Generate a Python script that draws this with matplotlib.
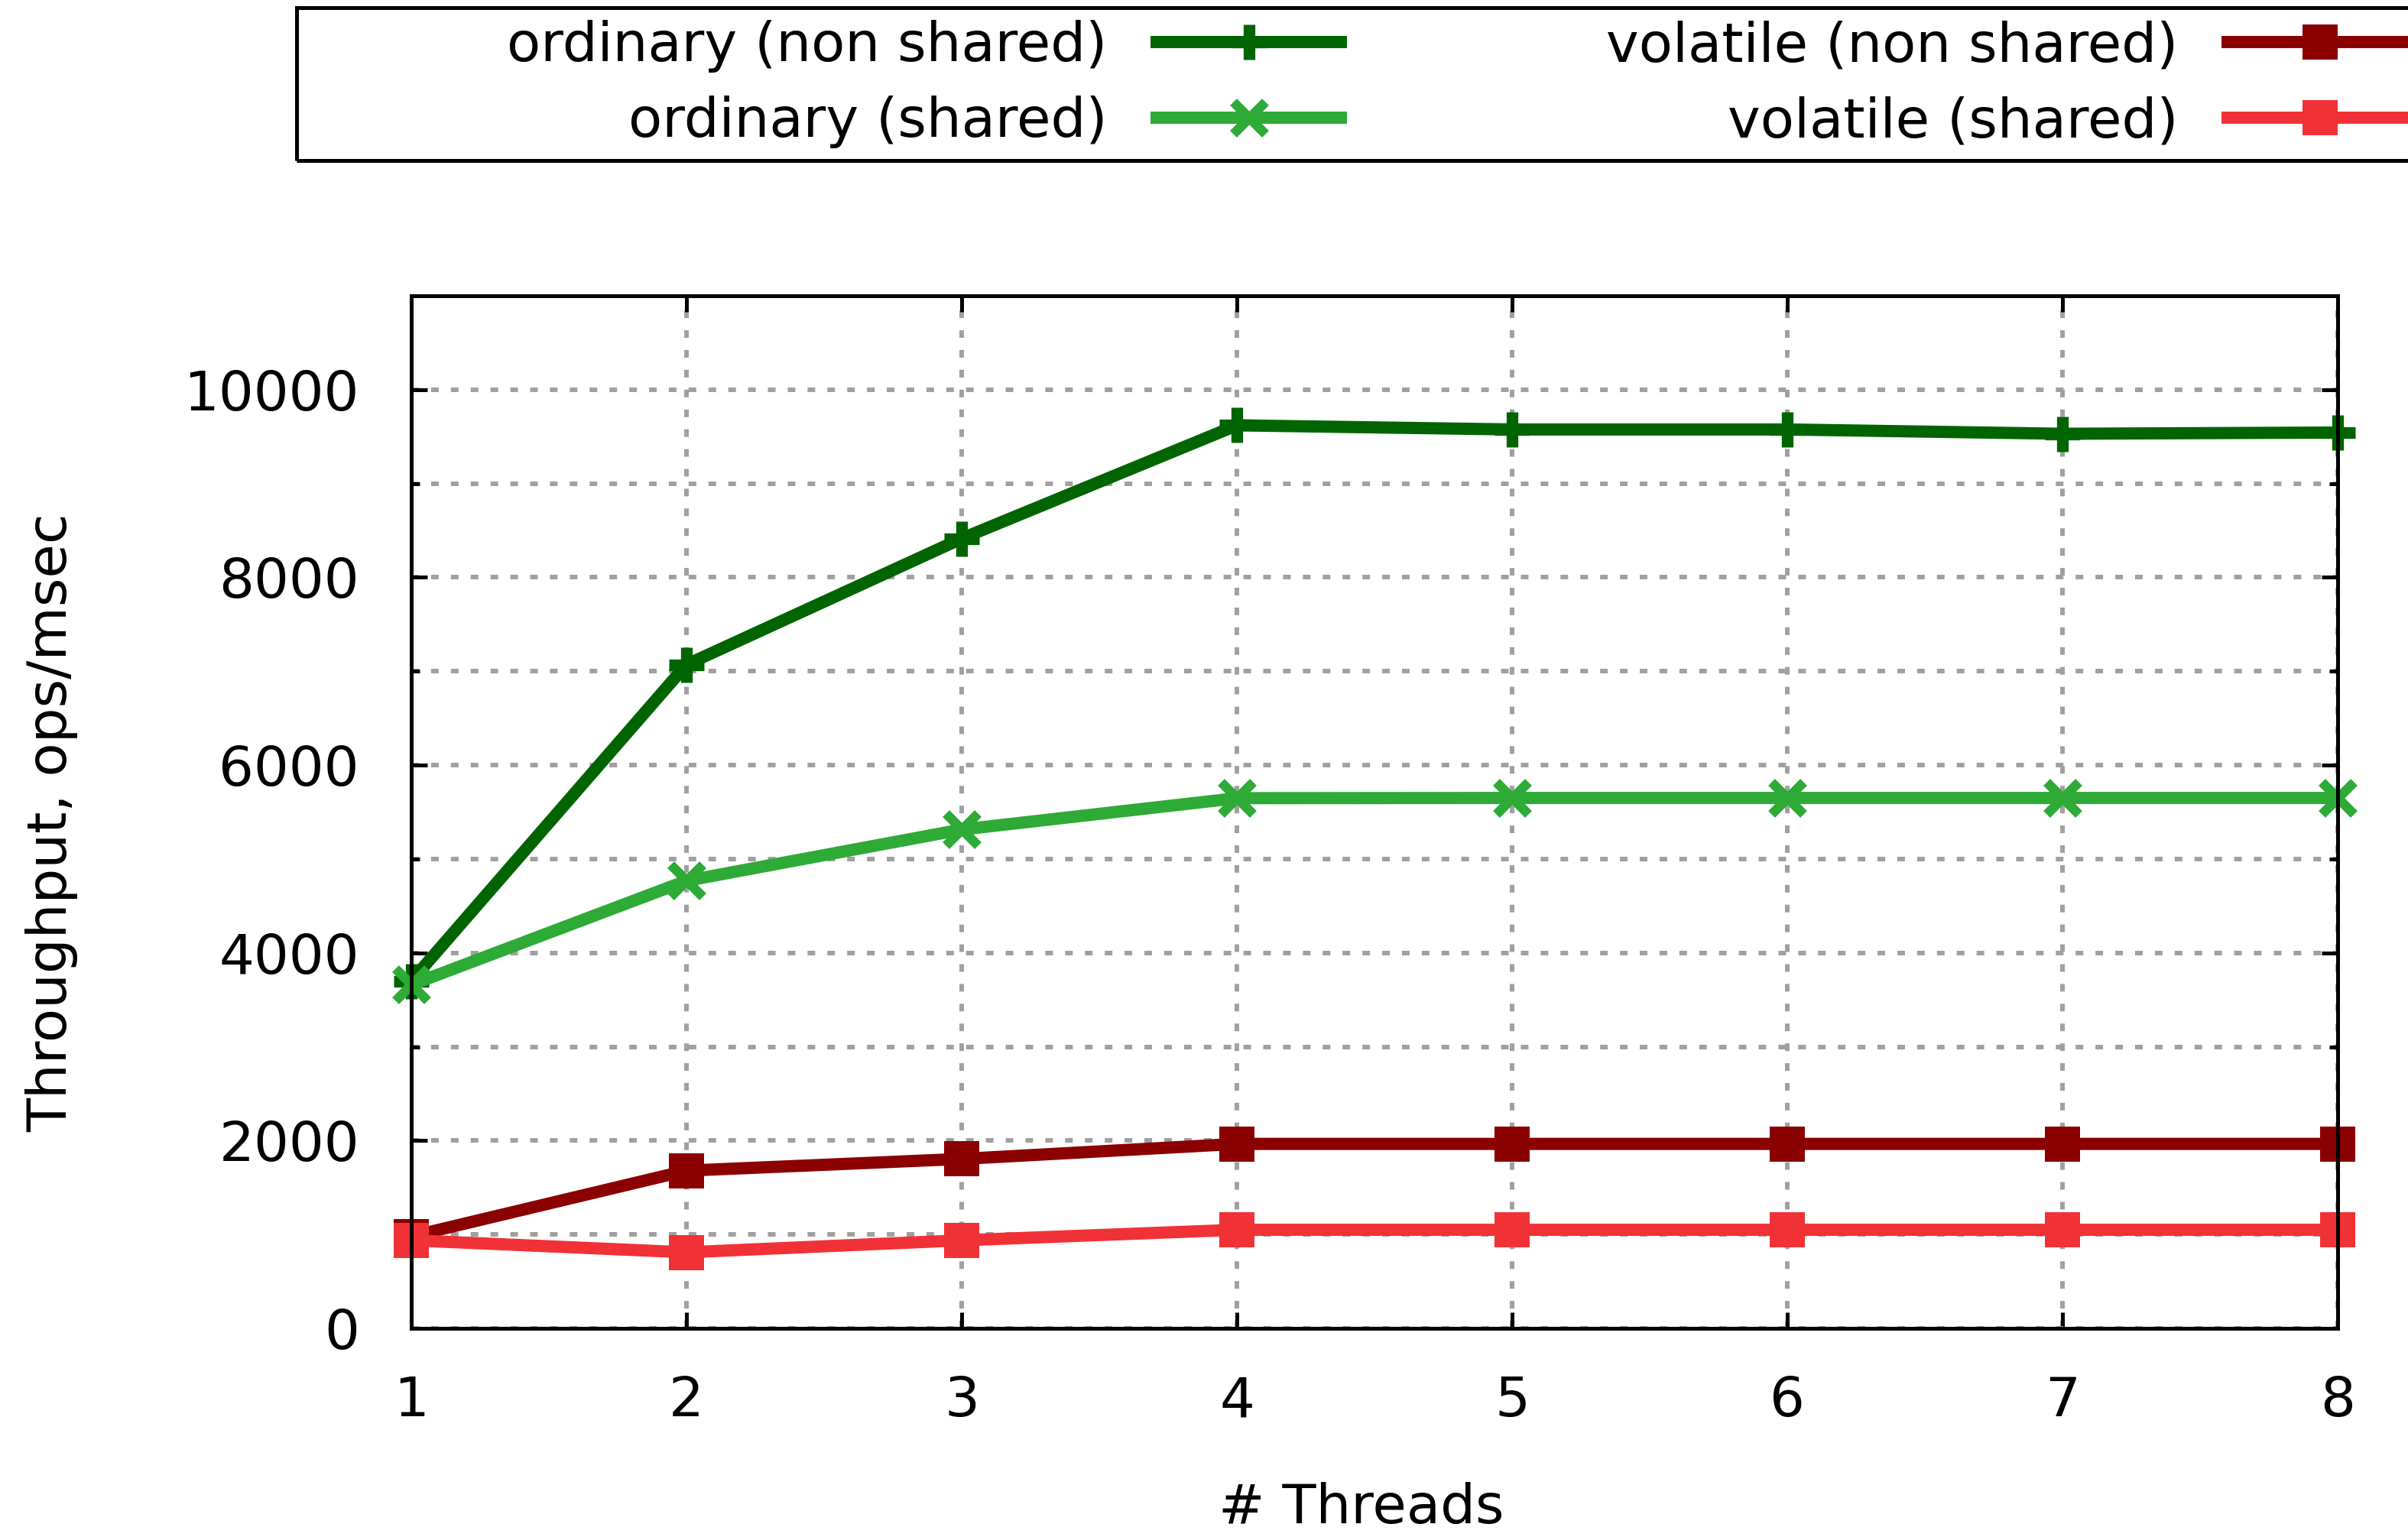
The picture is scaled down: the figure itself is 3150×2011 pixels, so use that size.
import numpy as np
import matplotlib
matplotlib.use('Agg')
from matplotlib import pyplot as plt
from matplotlib.patches import Rectangle
from matplotlib.ticker import MultipleLocator

# values
threads = [1, 2, 3, 4, 5, 6, 7, 8]
ord_nonshared = [3700, 7070, 8414, 9620, 9576, 9576, 9530, 9543]
ord_shared = [3660, 4768, 5314, 5648, 5650, 5650, 5650, 5650]
vol_nonshared = [980, 1680, 1805, 1965, 1965, 1965, 1965, 1965]
vol_shared = [938, 810, 938, 1050, 1050, 1050, 1050, 1050]

labels = ['ordinary (non shared)', 'ordinary (shared)',
          'volatile (non shared)', 'volatile (shared)']
colors = ['#006400', '#2eaa36', '#8b0000', '#f03236']
yticks = [0, 2000, 4000, 6000, 8000, 10000]

plt.rcParams['font.family'] = ['DejaVu Sans']
FS = 52

fig = plt.figure(figsize=(31.5, 20.11), dpi=100)
ax = fig.add_axes([538/3150, 1 - 1738/2011, 2520/3150, 1351/2011])

lw = 11.5
ax.plot(threads, ord_nonshared, color=colors[0], lw=lw, marker='+', ms=33, mew=11, clip_on=False, label=labels[0])
ax.plot(threads, ord_shared, color=colors[1], lw=lw, marker='x', ms=30, mew=9, clip_on=False, label=labels[1])
ax.plot(threads, vol_nonshared, color=colors[2], lw=lw, marker='s', ms=33, mew=0, clip_on=False, label=labels[2])
ax.plot(threads, vol_shared, color=colors[3], lw=lw, marker='s', ms=33, mew=0, clip_on=False, label=labels[3])

ax.set_xlim(1, 8)
ax.set_ylim(0, 11000)
ax.set_xticks(threads)
ax.set_yticks(yticks)
ax.yaxis.set_minor_locator(MultipleLocator(1000))

ax.tick_params(which='both', direction='in', top=True, right=True, width=3.6, labelsize=FS)
ax.tick_params(which='major', length=15)
ax.tick_params(which='minor', length=8)
ax.tick_params(axis='y', pad=49)
ax.tick_params(axis='x', pad=44)
for sp in ax.spines.values():
    sp.set_linewidth(3.6)

gridstyle = dict(color='#a0a0a0', lw=4.3, linestyle=(0, (1.67, 2.67)))
ax.set_axisbelow(True)
ax.grid(True, which='both', axis='y', **gridstyle)
ax.grid(True, which='major', axis='x', **gridstyle)

ax.set_xlabel('# Threads', fontsize=FS, va='baseline')
ax.xaxis.set_label_coords(0.493, -0.189)
ax.set_ylabel('Throughput, ops/msec', fontsize=FS, va='center')
ax.yaxis.set_label_coords(-0.1865, 0.49)

handles, labs = ax.get_legend_handles_labels()
fig.legend(handles, labs, loc='upper left', bbox_to_anchor=(663/3150, 1 - 26/2011),
           ncol=2, markerfirst=False, frameon=False, fontsize=FS,
           borderpad=0, borderaxespad=0, labelspacing=0.42,
           handlelength=3.34, handletextpad=0.9, columnspacing=4.8)
fig.add_artist(Rectangle((388/3150, 1 - 210/2011), 1.0, 200/2011, transform=fig.transFigure,
                         fill=False, edgecolor='black', lw=3.6, clip_on=False))

fig.savefig('out.png', dpi=100)
